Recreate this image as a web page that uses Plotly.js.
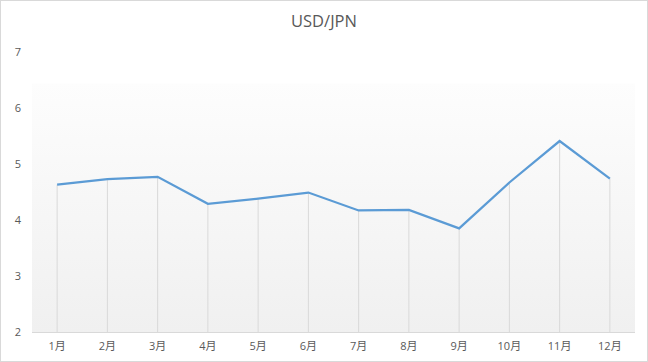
<!DOCTYPE html>
<html>
<head>
<meta charset="utf-8">
<script src="https://cdn.plot.ly/plotly-3.0.1.min.js"></script>
<style>
html,body{margin:0;padding:0;background:#fff;}
#wrap{position:relative;width:648px;height:362px;}
#chart{width:648px;height:362px;}
#frame{position:absolute;left:0;top:0;width:648px;height:362px;box-sizing:border-box;border:1px solid #d9d9d9;pointer-events:none;}
</style>
</head>
<body>
<div id="wrap"><div id="chart"></div><div id="frame"></div></div>
<script>
const months = ['1月','2月','3月','4月','5月','6月','7月','8月','9月','10月','11月','12月'];
const usdJpn = [4.63, 4.73, 4.77, 4.29, 4.38, 4.49, 4.17, 4.18, 3.85, 4.67, 5.41, 4.74];
const yMin = 2, yMax = 7;

const drop = usdJpn.map(v => v - yMin);
const zeros = usdJpn.map(() => 0);

const gradSvg = '<svg xmlns="http://www.w3.org/2000/svg" width="10" height="100" preserveAspectRatio="none">' +
  '<defs><linearGradient id="g" x1="0" y1="0" x2="0" y2="1">' +
  '<stop offset="0" stop-color="#fdfdfd"/><stop offset="1" stop-color="#f0f0f0"/></linearGradient></defs>' +
  '<rect width="10" height="100" fill="url(#g)"/></svg>';
const gradUri = 'data:image/svg+xml;base64,' + btoa(gradSvg);

const font = '"Open Sans", "Noto Sans CJK SC", "Noto Sans", sans-serif';

const traces = [
  {
    x: months, y: usdJpn, type: 'scatter', mode: 'markers',
    marker: {size: 1, opacity: 0},
    error_y: {type: 'data', symmetric: false, array: zeros, arrayminus: drop,
              color: '#d9d9d9', thickness: 1, width: 0},
    hoverinfo: 'skip', showlegend: false
  },
  {
    x: months, y: usdJpn, type: 'scatter', mode: 'lines',
    line: {color: '#5b9bd5', width: 2.25},
    name: 'USD/JPN', showlegend: false
  }
];

const layout = {
  width: 648, height: 362,
  margin: {l: 32, r: 13, t: 52, b: 30},
  paper_bgcolor: '#ffffff',
  plot_bgcolor: 'rgba(0,0,0,0)',
  font: {family: font, color: '#595959', size: 11},
  title: {text: 'USD/JPN', font: {family: font, size: 16.5, color: '#595959'},
          x: 0.5, xanchor: 'center', y: 0.94, yanchor: 'middle', yref: 'container'},
  xaxis: {type: 'category', range: [-0.5, 11.5], showgrid: false, zeroline: false,
          showline: true, linecolor: '#d9d9d9', linewidth: 1, ticks: '',
          tickfont: {size: 11, color: '#595959'}, ticklabelstandoff: 4, fixedrange: true},
  yaxis: {range: [yMin, yMax], dtick: 1, showgrid: false, zeroline: false, showline: false,
          ticks: '', tickfont: {size: 11, color: '#595959'}, ticklabelstandoff: 10, fixedrange: true},
  images: [{source: gradUri, xref: 'paper', yref: 'paper', x: 0, y: 0.888, sizex: 1, sizey: 0.888,
            xanchor: 'left', yanchor: 'top', sizing: 'stretch', layer: 'below'}]
};

Plotly.newPlot('chart', traces, layout, {displayModeBar: false, staticPlot: true});
</script>
</body>
</html>
